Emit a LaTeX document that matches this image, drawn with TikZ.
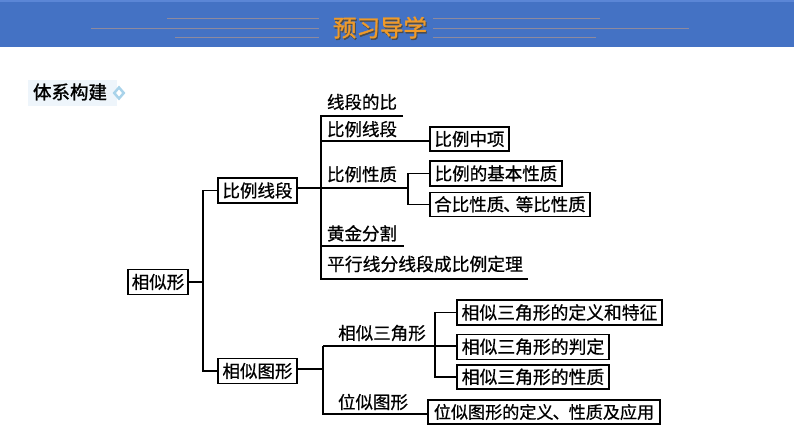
\documentclass[tikz,border=0pt]{standalone}
\usepackage{fontspec}
\setmainfont{Noto Sans CJK SC}[RawFeature={embolden=0.8}]
\newfontfamily\titlefont{Noto Sans CJK SC}[RawFeature={embolden=1.4}]
\usepackage{tikz}
\usetikzlibrary{positioning,shapes.geometric}
\definecolor{bandblue}{HTML}{4472C4}
\definecolor{bandtop}{HTML}{5B86D6}
\definecolor{bandline}{HTML}{8E8A9E}
\definecolor{titleorange}{HTML}{F09A28}
\definecolor{tagblue}{HTML}{EEF5FB}
\definecolor{iconblue}{HTML}{A9D3EA}
\begin{document}
\begin{tikzpicture}[x=1pt,y=-1pt,
  box/.style={draw=black, line width=1.2pt, font=\fontsize{17.5}{19}\selectfont, inner sep=0pt, minimum height=25pt, align=center},
  lbl/.style={font=\fontsize{17.5}{19}\selectfont, inner sep=0pt},
  link/.style={draw=black, line width=1.2pt},
  headline/.style={draw=bandline, line width=0.7pt}]
\useasboundingbox (0,0) rectangle (794,447);
% header band
\fill[bandblue] (0,0) rectangle (794,47);
\fill[bandtop] (0,0) rectangle (794,1.5);
\node[font=\titlefont\fontsize{23.5}{25}\selectfont, text=black!70, inner sep=0pt] (titleshadow) at (381,29) {预习导学};
\node[font=\titlefont\fontsize{23.5}{25}\selectfont, text=titleorange, inner sep=0pt] (title) at (380,27.5) {预习导学};
\draw[headline] (167,18.5) -- (319,18.5) (433,18.5) -- (600,18.5);
\draw[headline] (91,28) -- (319,28) (433,28) -- (689,28);
\draw[headline] (175,37) -- (319,37) (433,37) -- (596,37);
% tag
\fill[tagblue] (28,80) rectangle (117,106);
\node[lbl, font=\titlefont\fontsize{18.5}{20}\selectfont] (tag) at (70,92) {体系构建};
\node[diamond, fill=iconblue, minimum width=13pt, minimum height=15pt, inner sep=0pt] (icon) at (119,93) {};
\node[diamond, fill=white, minimum width=6pt, minimum height=7pt, inner sep=0pt] (iconcore) at (icon) {};
% left part
\node[box, minimum width=60pt] (root) at (158,282) {相似形};
\node[box, minimum width=79pt] (ratio) at (257.5,190.5) {比例线段};
\node[box, minimum width=79pt] (figure) at (257.5,371) {相似图形};
% upper branch
\node[lbl] (segratio) at (362,102) {线段的比};
\node[lbl, below=10.5pt of segratio] (propseg) {比例线段};
\node[lbl, below=28.5pt of propseg] (propnature) {比例性质};
\node[lbl, below=42.5pt of propnature] (golden) {黄金分割};
\node[lbl, font=\fontsize{17.8}{19}\selectfont] (parallel) at (425,264) {平行线分线段成比例定理};
\node[box, minimum width=79pt, minimum height=24pt] (mean) at (469.5,139) {比例中项};
\node[box, minimum width=132pt] (basic) at (496,173.5) {比例的基本性质};
\node[box, minimum width=160pt, minimum height=24pt, below=5pt of basic.south west, anchor=north west] (sum) {合比性质\kern-1pt、\kern-5pt等比性质};
% lower branch
\node[lbl] (simtri) at (382,333) {相似三角形};
\node[lbl] (homo) at (373,402) {位似图形};
\node[box, minimum width=205pt, font=\fontsize{17.8}{19}\selectfont] (tridef) at (559.5,312.5) {相似三角形的定义和特征};
\node[box, minimum width=152pt, font=\fontsize{17.8}{19}\selectfont, below=8pt of tridef.south west, anchor=north west] (trijudge) {相似三角形的判定};
\node[box, minimum width=152pt, minimum height=24pt, font=\fontsize{17.8}{19}\selectfont, below=4.5pt of trijudge.south west, anchor=north west] (trinature) {相似三角形的性质};
\node[box, minimum width=232pt, minimum height=24pt, font=\fontsize{17.1}{19}\selectfont] (homodef) at (544,412) {位似图形的定义\kern-1pt、\kern-1pt性质及应用};
% junctions
\coordinate (jroot) at (203,282);
\coordinate (jupper) at (321,188);
\coordinate (jtop) at (321,116);
\coordinate (jtopend) at (403,116);
\coordinate (jmean) at (321,141);
\coordinate (jgold) at (321,246);
\coordinate (jgoldend) at (404,246);
\coordinate (jbottom) at (321,279);
\coordinate (jbottomend) at (528,279);
\coordinate (jnature) at (408,188);
\coordinate (jlower) at (323,369);
\coordinate (jtri) at (323,346);
\coordinate (jhomo) at (323,414);
\coordinate (jsplit) at (435,346);
% links
\draw[link] (root.east) -- (jroot);
\draw[link] (ratio.west) -| (jroot) |- (figure.west);
\draw[link] (ratio.east |- jupper) -- (jnature);
\draw[link] (jtopend) -- (jtop) -- (jbottom) -- (jbottomend);
\draw[link] (jgold) -- (jgoldend);
\draw[link] (jmean) -- (jmean -| mean.west);
\draw[link] (basic.west) -| (jnature) |- (sum.west);
\draw[link] (figure.east |- jlower) -- (jlower);
\draw[link] (jtri) -- (jhomo) -- (jhomo -| homodef.west);
\draw[link] (jtri) -- (jtri -| trijudge.west);
\draw[link] (tridef.west) -| (jsplit) |- (trinature.west);
\end{tikzpicture}
\end{document}
